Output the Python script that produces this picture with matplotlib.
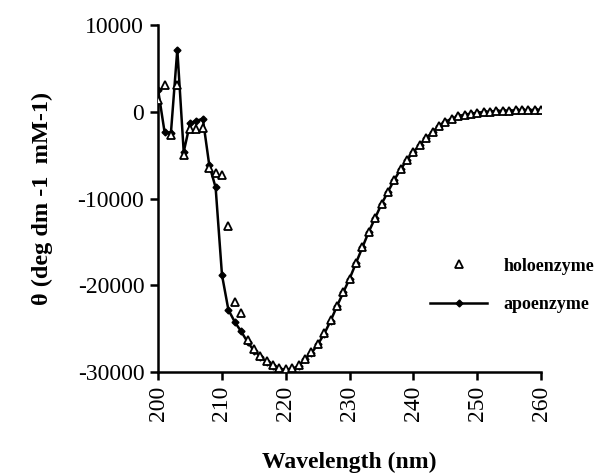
import matplotlib
matplotlib.use("Agg")
import matplotlib.pyplot as plt
import numpy as np

plt.rcParams['font.family'] = ['Liberation Serif', 'DejaVu Serif']
plt.rcParams['axes.unicode_minus'] = False

# longitud de onda (nm)
wl = np.arange(200, 261)

# apoenzima
apo = [2500, -2300, -2400, 7200, -4600, -1300, -1000, -800, -6100, -8700,
       -18800, -22800, -24200, -25300, -26500, -27500, -28200, -28800, -29300, -29600,
       -29700, -29600, -29300, -28500, -27800, -26800, -25600, -24100, -22400, -20800,
       -19200, -17400, -15600, -13800, -12200, -10600, -9200, -7800, -6600, -5500,
       -4600, -3800, -3000, -2300, -1600, -1100, -800, -500, -300, -200,
       -100, 0, 50, 100, 150, 150, 200, 200, 200, 250,
       250]

# holoenzima
holo = [1400, 3100, -2600, 3100, -5000, -2000, -2000, -1800, -6500, -7000,
        -7300, -13200, -21900, -23200, -26300, -27300, -28100, -28700, -29200, -29500,
        -29600, -29500, -29200, -28500, -27700, -26800, -25500, -24000, -22400, -20800,
        -19200, -17400, -15600, -13800, -12200, -10600, -9200, -7800, -6600, -5500,
        -4600, -3800, -3000, -2300, -1600, -1100, -800, -500, -300, -200,
        -100, 0, 50, 100, 150, 150, 200, 200, 200, 250,
        250]

fig = plt.figure(figsize=(6.06, 4.76), dpi=100)
ax = fig.add_axes([0.261, 0.218, 0.632, 0.729])

ax.plot(wl, holo, linestyle='none', marker='^', markersize=5.5,
        markerfacecolor='white', markeredgecolor='black', markeredgewidth=1.3,
        label='holoenzyme', zorder=3)
ax.plot(wl, apo, color='black', linewidth=1.8, marker='D', markersize=3.5,
        markerfacecolor='black', markeredgecolor='black', label='apoenzyme', zorder=2)

ax.set_xlim(200, 260)
ax.set_ylim(-30000, 10000)
ax.set_xticks(np.arange(200, 261, 10))
ax.set_yticks([-30000, -20000, -10000, 0, 10000])
ax.set_xticklabels([str(v) for v in range(200, 261, 10)], rotation=90)

for s in ['top', 'right']:
    ax.spines[s].set_visible(False)
for s in ['left', 'bottom']:
    ax.spines[s].set_linewidth(1.8)
ax.tick_params(axis='both', which='major', labelsize=17, width=1.8, length=6,
               direction='out', pad=4)

ax.set_xlabel('Wavelength (nm)', fontsize=17, fontweight='bold', labelpad=22)
ax.set_ylabel('θ (deg dm -1  mM-1)', fontsize=17.5, fontweight='bold', labelpad=18)

leg = ax.legend(loc='center left', bbox_to_anchor=(0.69, 0.25), frameon=False,
                fontsize=13, handlelength=3.2, handletextpad=0.9,
                labelspacing=1.2, borderaxespad=0)
for t in leg.get_texts():
    t.set_fontweight('bold')

fig.savefig('out.png', dpi=100)
